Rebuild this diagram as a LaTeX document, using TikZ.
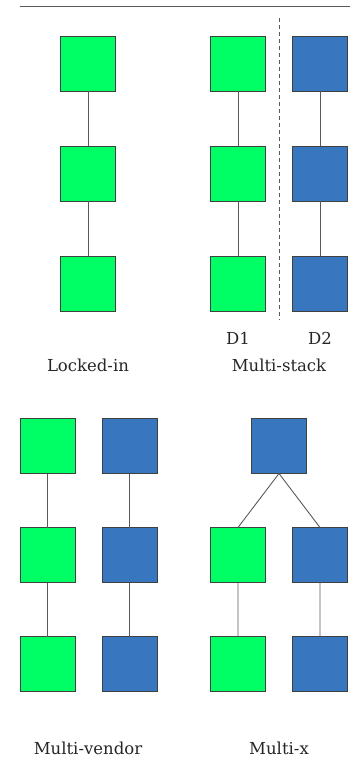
\documentclass[tikz,border=0pt]{standalone}
\usepackage{fontspec}
\newfontfamily\labelfont{DejaVu Serif}
\begin{document}
\begin{tikzpicture}[x=1pt,y=-1pt,
  box/.style={draw=black!75,line width=0.9pt,minimum size=55pt,inner sep=0pt,outer sep=0pt},
  gbox/.style={box,fill=vgreen},
  bbox/.style={box,fill=vblue},
  link/.style={draw=black!65,line width=0.9pt},
  lbl/.style={font=\labelfont\fontsize{16.5}{18}\selectfont,text=black!85,inner sep=0pt},
]
\definecolor{vgreen}{RGB}{0,255,100}
\definecolor{vblue}{RGB}{56,118,192}
\useasboundingbox (0,0) rectangle (350,769);

% header rule
\coordinate (r0) at (20,6);
\coordinate (r1) at (350,6);
\draw[black!65,line width=0.9pt] (r0) -- (r1);

% Locked-in
\node[gbox] (l1) at (88,63.5) {};
\node[gbox] (l2) at (88,173.5) {};
\node[gbox] (l3) at (88,283.5) {};
\draw[link] (l1) -- (l2) (l2) -- (l3);
\node[lbl] (tl) at (88,365) {Locked-in};

% Multi-stack
\node[gbox] (s1) at (238,63.5) {};
\node[gbox] (s2) at (238,173.5) {};
\node[gbox] (s3) at (238,283.5) {};
\node[bbox] (t1) at (320,63.5) {};
\node[bbox] (t2) at (320,173.5) {};
\node[bbox] (t3) at (320,283.5) {};
\draw[link] (s1) -- (s2) (s2) -- (s3) (t1) -- (t2) (t2) -- (t3);
\coordinate (d0) at (279,18);
\coordinate (d1) at (279,320);
\draw[black!65,line width=0.9pt,dash pattern=on 4pt off 3pt] (d0) -- (d1);
\node[lbl] (td1) at (238,338) {D1};
\node[lbl] (td2) at (320,338) {D2};
\node[lbl] (ts) at (279,365) {Multi-stack};

% Multi-vendor
\node[gbox] (v1) at (47.5,446) {};
\node[gbox] (v2) at (47.5,555) {};
\node[gbox] (v3) at (47.5,664) {};
\node[bbox] (w1) at (129.5,446) {};
\node[bbox] (w2) at (129.5,555) {};
\node[bbox] (w3) at (129.5,664) {};
\draw[link] (v1) -- (v2) (v2) -- (v3) (w1) -- (w2) (w2) -- (w3);
\node[lbl] (tv) at (88,748) {Multi-vendor};

% Multi-x
\node[bbox] (x0) at (279,446) {};
\node[gbox] (x1) at (238,555) {};
\node[gbox] (x2) at (238,664) {};
\node[bbox] (y1) at (320,555) {};
\node[bbox] (y2) at (320,664) {};
\draw[link] (x0.south) -- (x1.north) (x0.south) -- (y1.north)
  (x1) -- (x2) (y1) -- (y2);
\node[lbl] (tx) at (279,748) {Multi-x};
\end{tikzpicture}
\end{document}
